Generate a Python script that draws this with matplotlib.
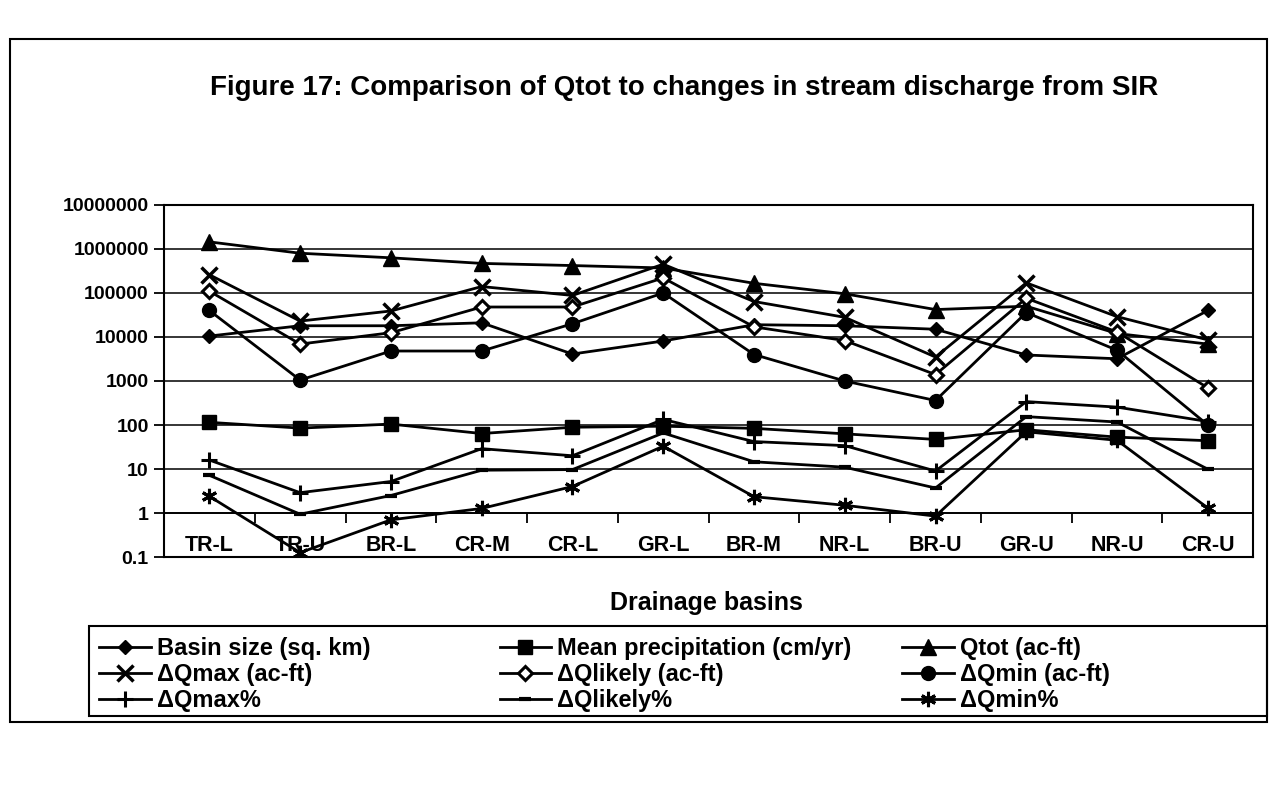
import numpy as np
import matplotlib
matplotlib.use("Agg")
import matplotlib.pyplot as plt
from matplotlib.patches import Rectangle

plt.rcParams['font.family'] = ['Liberation Sans', 'DejaVu Sans']
plt.rcParams['font.weight'] = 'bold'

basins = ['TR-L', 'TR-U', 'BR-L', 'CR-M', 'CR-L', 'GR-L',
          'BR-M', 'NR-L', 'BR-U', 'GR-U', 'NR-U', 'CR-U']

basin_size = [10500, 18000, 18000, 21000, 4100, 8100, 19000, 18000, 15000, 3900, 3200, 40000]
mean_precip = [115, 85, 105, 64, 89, 94, 84, 63, 47, 78, 53, 44]
qtot = [1450000, 800000, 630000, 470000, 420000, 370000, 166000, 96000, 42000, 50000, 12000, 6900]
dq_max = [260000, 23000, 39000, 140000, 88000, 450000, 64000, 28000, 3500, 170000, 29000, 8600]
dq_likely = [110000, 6900, 12500, 48000, 48000, 220000, 17000, 8300, 1400, 76000, 13000, 700]
dq_min = [40000, 1050, 4800, 4800, 20000, 100000, 4000, 1000, 360, 36000, 5000, 100]
dq_max_pct = [16, 2.9, 5.2, 29, 20, 134, 42, 34, 9, 340, 255, 120]
dq_likely_pct = [7.2, 0.94, 2.5, 9.4, 9.7, 66, 14.6, 11, 3.7, 155, 117, 9.9]
dq_min_pct = [2.4, 0.126, 0.7, 1.27, 4.0, 33, 2.35, 1.5, 0.85, 70, 45, 1.3]

ytick_vals = [0.1, 1, 10, 100, 1000, 10000, 100000, 1000000, 10000000]
ytick_labels = ['0.1', '1', '10', '100', '1000', '10000', '100000', '1000000', '10000000']

x = np.arange(len(basins))

fig = plt.figure(figsize=(12.71, 7.85), dpi=100)
ax = fig.add_axes([0.129, 0.2904, 0.857, 0.4485])

kw = dict(color='black', lw=2, mec='black')
l_basin, = ax.plot(x, basin_size, marker='D', ms=7.5, mfc='black', mew=1, **kw)
l_prec, = ax.plot(x, mean_precip, marker='s', ms=10, mfc='black', mew=1, **kw)
l_qtot, = ax.plot(x, qtot, marker='^', ms=11, mfc='black', mew=1, **kw)
l_max, = ax.plot(x, dq_max, marker='x', ms=11, mew=2.5, **kw)
l_like, = ax.plot(x, dq_likely, marker='D', ms=7, mfc='white', mew=2.2, **kw)
l_min, = ax.plot(x, dq_min, marker='o', ms=10, mfc='black', mew=1, **kw)
l_maxp, = ax.plot(x, dq_max_pct, marker='+', ms=11, mew=2.2, **kw)
l_likep, = ax.plot(x, dq_likely_pct, marker='_', ms=9, mew=3, **kw)
l_minp, = ax.plot(x, dq_min_pct, marker=(6, 2, 0), ms=11, mew=2.2, **kw)

ax.set_yscale('log')
ax.set_ylim(0.1, 1e7)
ax.set_xlim(-0.5, len(basins) - 0.5)
ax.set_yticks(ytick_vals)
ax.set_yticklabels(ytick_labels)
ax.yaxis.set_minor_locator(matplotlib.ticker.NullLocator())
ax.tick_params(axis='y', direction='out', length=7, width=1.3, labelsize=14, pad=4)
ax.set_xticks([])
ax.grid(axis='y', color='black', lw=1.1)
ax.set_axisbelow(True)
for s in ax.spines.values():
    s.set_linewidth(1.5)

# category axis crosses at 1, labels sit low
cat = ax.secondary_xaxis(0.125)
cat.set_xticks(np.arange(0.5, len(basins) - 1, 1))
cat.tick_params(direction='out', length=7, width=1.3, labelbottom=False)
cat.spines['bottom'].set_linewidth(1.3)

for i, b in enumerate(basins):
    ax.text(i, 0.004, b, transform=ax.get_xaxis_transform(), ha='center',
            va='bottom', fontsize=15.5, fontweight='bold')

fig.text(0.538, 0.888, 'Figure 17: Comparison of Qtot to changes in stream discharge from SIR',
         ha='center', va='center', fontsize=20, fontweight='bold')
fig.text(0.556, 0.232, 'Drainage basins', ha='center', va='center',
         fontsize=18, fontweight='bold')

# chart border and legend box
fig.patches.append(Rectangle((0.008, 0.080), 0.989, 0.870, transform=fig.transFigure,
                             fill=False, ec='black', lw=1.5))
fig.patches.append(Rectangle((0.070, 0.088), 0.927, 0.115, transform=fig.transFigure,
                             fill=False, ec='black', lw=1.5))

cols = [([l_basin, l_max, l_maxp], ['Basin size (sq. km)', 'ΔQmax (ac-ft)', 'ΔQmax%'], 0.078),
        ([l_prec, l_like, l_likep], ['Mean precipitation (cm/yr)', 'ΔQlikely (ac-ft)', 'ΔQlikely%'], 0.393),
        ([l_qtot, l_min, l_minp], ['Qtot (ac-ft)', 'ΔQmin (ac-ft)', 'ΔQmin%'], 0.710)]
for hs, labs, x0 in cols:
    fig.legend(hs, labs, loc='upper left', bbox_to_anchor=(x0, 0.188),
               frameon=False, borderpad=0, borderaxespad=0, handlelength=2.2,
               handletextpad=0.25, labelspacing=0.12, prop={'size': 17, 'weight': 'bold'})

fig.savefig('out.png', dpi=100)
